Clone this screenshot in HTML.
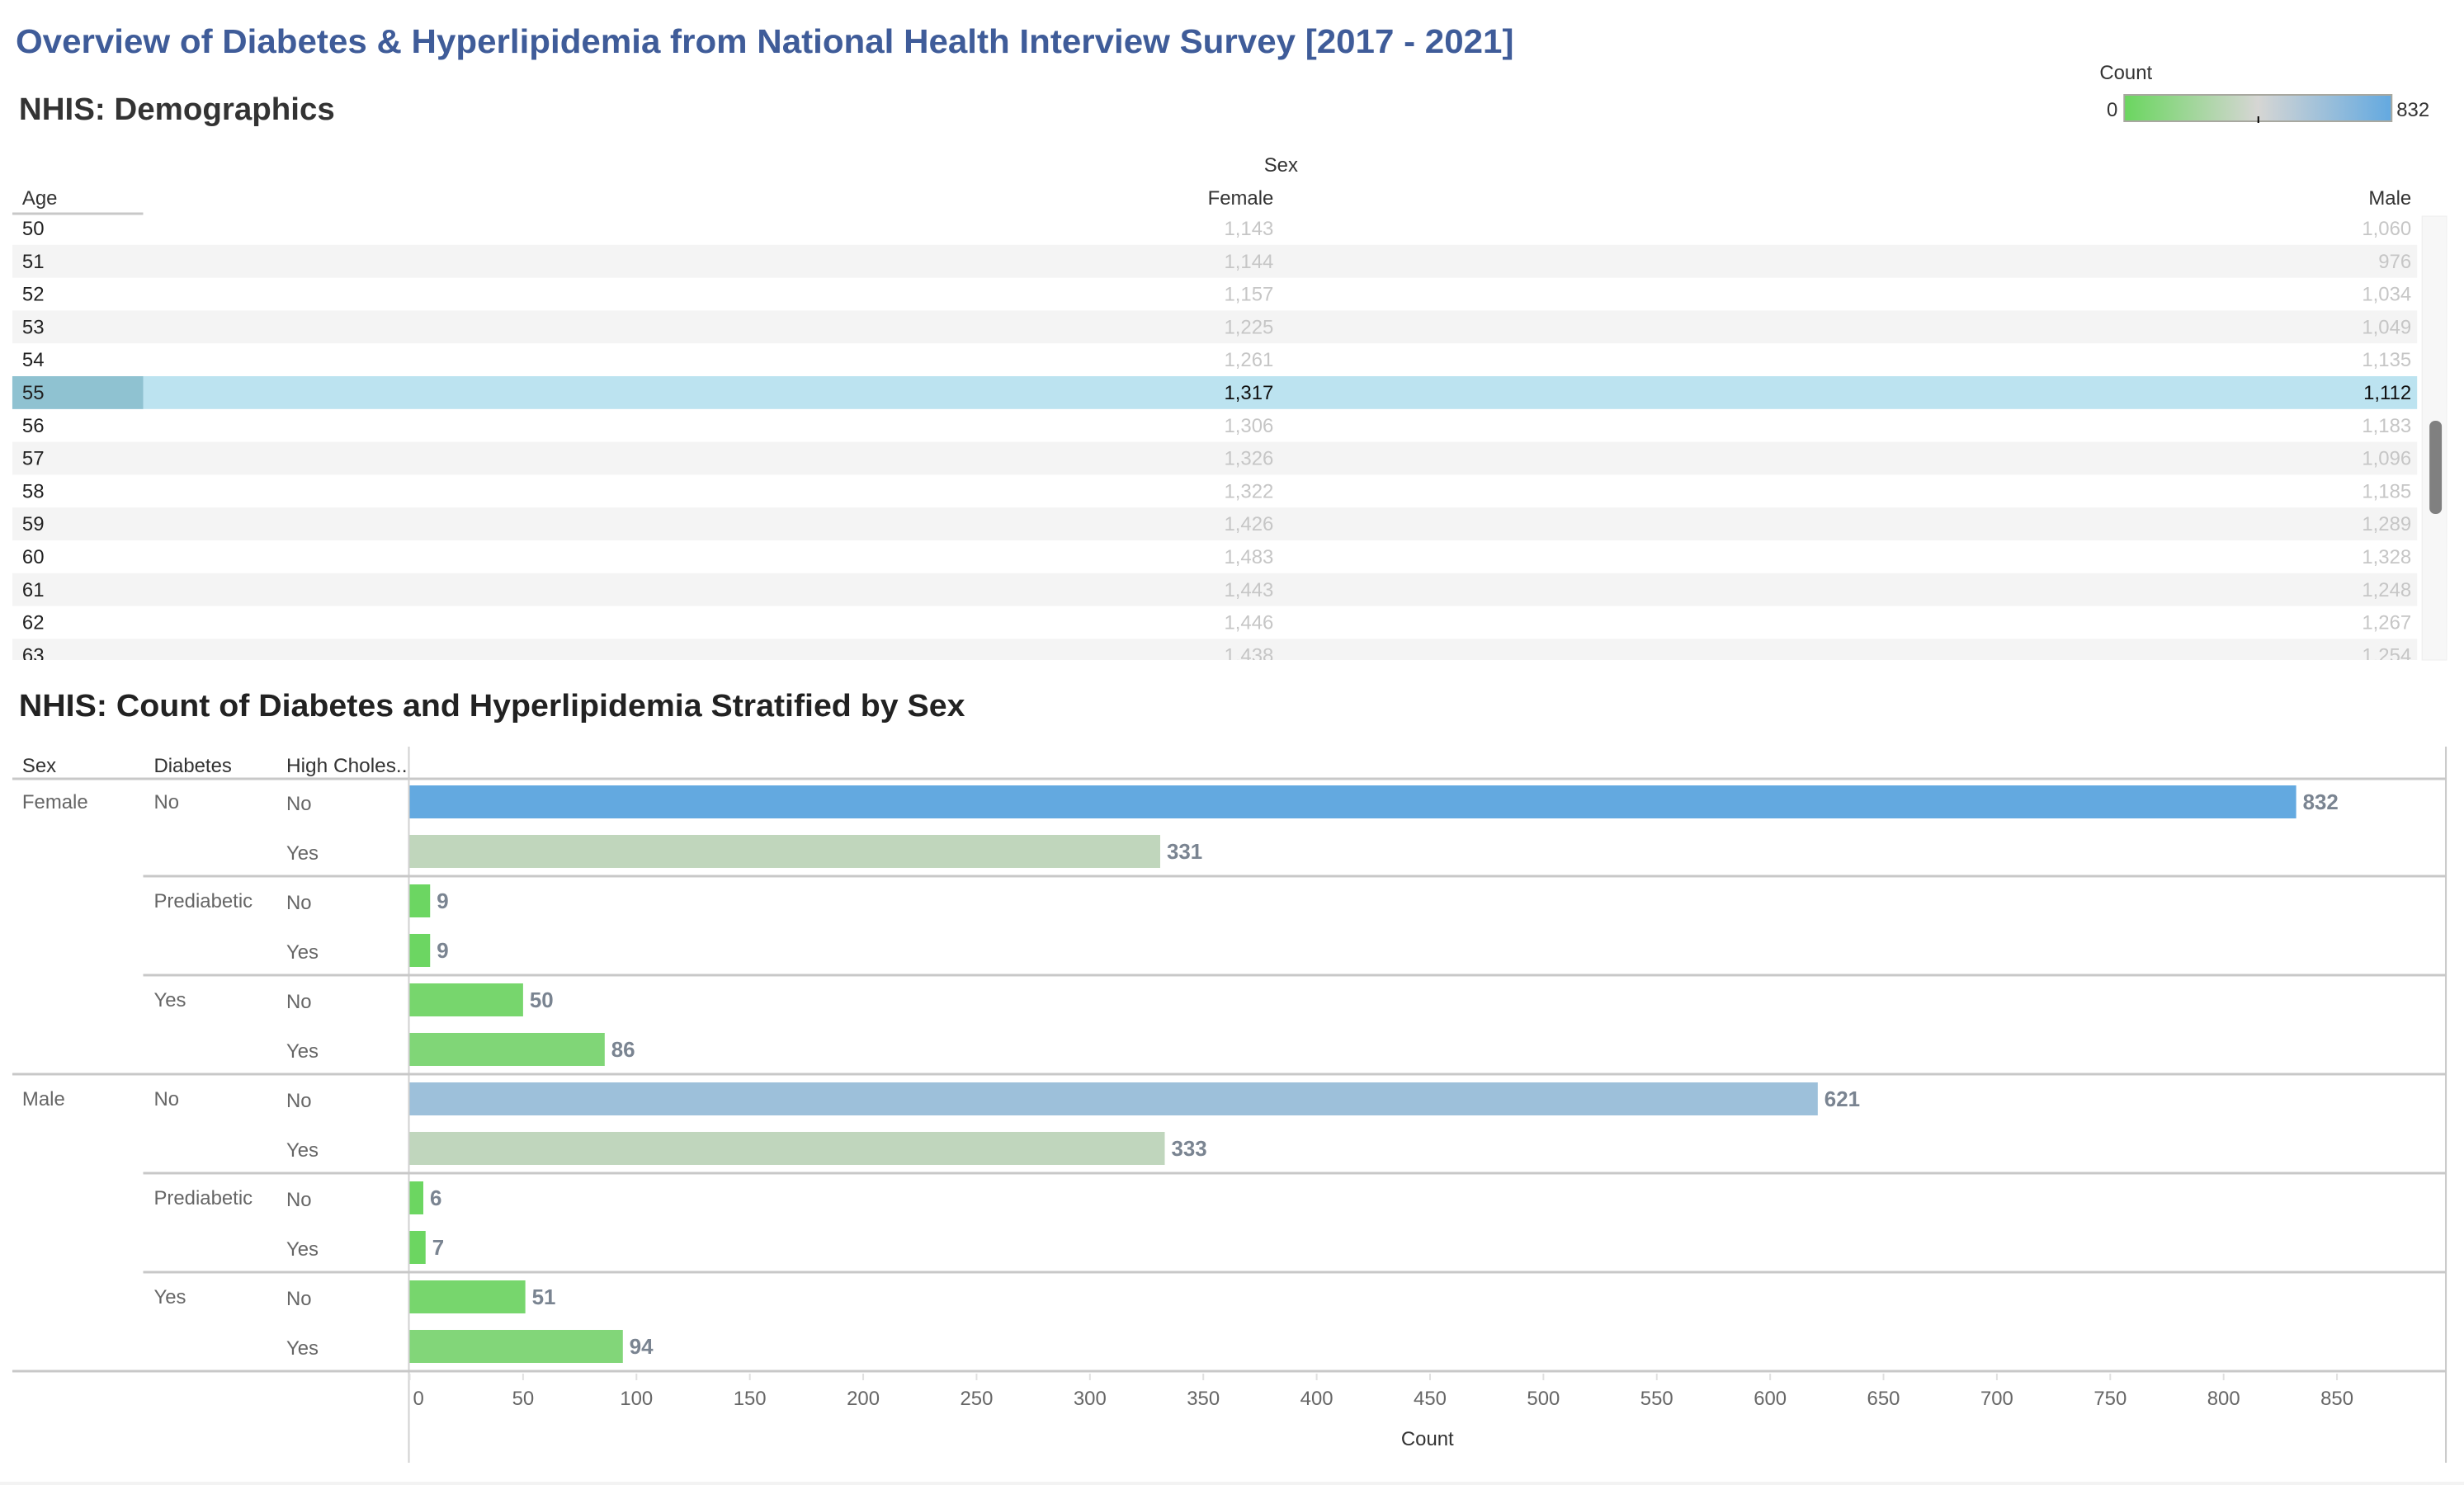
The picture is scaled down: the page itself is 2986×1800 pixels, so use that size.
<!DOCTYPE html>
<html><head><meta charset="utf-8">
<style>
html,body{margin:0;padding:0;background:#fff;}
svg{display:block;font-family:"Liberation Sans",sans-serif;}
</style></head>
<body>
<svg id="main" width="2986" height="1800" viewBox="0 0 2986 1800" xmlns="http://www.w3.org/2000/svg">
 <defs>
  <linearGradient id="lg" x1="0" x2="1" y1="0" y2="0">
    <stop offset="0" stop-color="#6ad65f"/>
    <stop offset="0.5" stop-color="#d6d6d4"/>
    <stop offset="1" stop-color="#63a9e0"/>
  </linearGradient>
  <clipPath id="tclip"><rect x="0" y="258" width="2986" height="542"/></clipPath>
 </defs>
 <g id="root" transform="scale(0.997,1)">
  <text x="19" y="64" font-size="41" font-weight="bold" fill="#3f5c99" textLength="1821" lengthAdjust="spacingAndGlyphs">Overview of Diabetes &amp; Hyperlipidemia from National Health Interview Survey [2017 - 2021]</text>
  <text x="23" y="145" font-size="38" font-weight="bold" fill="#333" textLength="384" lengthAdjust="spacingAndGlyphs">NHIS: Demographics</text>

  <g>
    <text x="2552" y="96" font-size="24" fill="#333">Count</text>
    <text x="2574" y="141" font-size="24" fill="#333" text-anchor="end">0</text>
    <rect x="2582" y="115" width="325" height="32" fill="url(#lg)" stroke="#a8a8a0" stroke-width="2"/>
    <line x1="2745" y1="141" x2="2745" y2="149" stroke="#000" stroke-width="2"/>
    <text x="2913" y="141" font-size="24" fill="#333">832</text>
  </g>

  <text x="1557" y="208" font-size="24" fill="#333" text-anchor="middle">Sex</text>
  <text x="27" y="248" font-size="24" fill="#333">Age</text>
  <line x1="15" y1="259" x2="174" y2="259" stroke="#c8c8c8" stroke-width="3"/>
  <text x="1548" y="248" font-size="24" fill="#333" text-anchor="end">Female</text>
  <text x="2931" y="248" font-size="24" fill="#333" text-anchor="end">Male</text>
  <g id="table" clip-path="url(#tclip)"></g>
  <rect x="2944" y="262" width="30" height="538" fill="#f7f7f7" stroke="#eee"/>
  <rect x="2953" y="510" width="15" height="113" rx="7" fill="#808080"/>

  <text x="23" y="868" font-size="38" font-weight="bold" fill="#222" textLength="1150" lengthAdjust="spacingAndGlyphs">NHIS: Count of Diabetes and Hyperlipidemia Stratified by Sex</text>
  <text x="27" y="936" font-size="24" fill="#333">Sex</text>
  <text x="187" y="936" font-size="24" fill="#333">Diabetes</text>
  <text x="348" y="936" font-size="24" fill="#333" textLength="147" lengthAdjust="spacingAndGlyphs">High Choles..</text>
  <line x1="15" y1="944" x2="2973" y2="944" stroke="#c8c8c8" stroke-width="3"/>
  <line x1="497" y1="905" x2="497" y2="1773" stroke="#d0d0d0" stroke-width="2"/>
  <line x1="2973" y1="905" x2="2973" y2="1773" stroke="#c8c8c8" stroke-width="2"/>
  <g id="bars"></g>
  <g id="xaxis"></g>
  <text x="1735" y="1752" font-size="24" fill="#333" text-anchor="middle">Count</text>
 </g>
 <rect x="0" y="1796" width="2986" height="4" fill="#f3f3f3"/>
</svg>
<script>
const ages = [50,51,52,53,54,55,56,57,58,59,60,61,62,63];
const femaleCounts = [1143,1144,1157,1225,1261,1317,1306,1326,1322,1426,1483,1443,1446,1438];
const maleCounts = [1060,976,1034,1049,1135,1112,1183,1096,1185,1289,1328,1248,1267,1254];
const highlightAge = 55;

const sexCats = ["Female","Female","Female","Female","Female","Female","Male","Male","Male","Male","Male","Male"];
const diabetesCats = ["No","No","Prediabetic","Prediabetic","Yes","Yes","No","No","Prediabetic","Prediabetic","Yes","Yes"];
const cholCats = ["No","Yes","No","Yes","No","Yes","No","Yes","No","Yes","No","Yes"];
const barCounts = [832,331,9,9,50,86,621,333,6,7,51,94];
const xTicks = [0,50,100,150,200,250,300,350,400,450,500,550,600,650,700,750,800,850];

const NS = "http://www.w3.org/2000/svg";
function mk(tag, attrs, parent, txt){
  const e = document.createElementNS(NS, tag);
  for (const k in attrs) e.setAttribute(k, attrs[k]);
  if (txt !== undefined) e.textContent = txt;
  parent.appendChild(e);
  return e;
}
const fmt = v => v.toLocaleString("en-US");

const table = document.getElementById("table");
const rowTop = 257, rowH = 39.8;
ages.forEach((a, i) => {
  const y = rowTop + i*rowH;
  const hi = a === highlightAge;
  if (hi) {
    const r1 = mk("rect", {x:15, y:y, width:2923, height:rowH, fill:"#bce3f0"}, table);
    
    
    const r2 = mk("rect", {x:15, y:y, width:159, height:rowH, fill:"#8fc2d1"}, table);
    
    
  } else if (i % 2 === 1) {
    const r = mk("rect", {x:15, y:y, width:2923, height:rowH, fill:"#f4f4f4"}, table);
    
    
  }
  const t1 = mk("text", {x:27, y:y+28, "font-size":24, fill:"#222"}, table, String(a));
  
  
  const t2 = mk("text", {x:1548, y:y+28, "font-size":24, fill: hi ? "#111" : "#c6c6c6", "text-anchor":"end"}, table, fmt(femaleCounts[i]));
  
  
  const t3 = mk("text", {x:2931, y:y+28, "font-size":24, fill: hi ? "#111" : "#c6c6c6", "text-anchor":"end"}, table, fmt(maleCounts[i]));
  
  
});

const x0 = 498, xScale = 2.756;
const xPos = v => x0 + v*xScale;
const maxV = Math.max(...barCounts), midV = maxV/2;
function colorFor(v){
  const g=[106,214,95], m=[214,214,212], b=[99,169,224];
  let a, c, t;
  if (v <= midV){ a=g; c=m; t=v/midV; } else { a=m; c=b; t=(v-midV)/midV; }
  return "rgb(" + a.map((x,k)=>Math.round(x+(c[k]-x)*t)).join(",") + ")";
}
const bars = document.getElementById("bars");
const yc0 = 972, pitch = 60, barH = 40;
barCounts.forEach((v, i) => {
  const yc = yc0 + i*pitch;
  const r = mk("rect", {x:x0, y:yc-barH/2, width:Math.max(1, xPos(v)-x0), height:barH, fill:colorFor(v)}, bars);
  
  
  const lb = mk("text", {x:xPos(v)+8, y:yc+9, "font-size":26, "font-weight":"bold", fill:"#7a8491"}, bars, String(v));
  
  
  const ch = mk("text", {x:348, y:yc+10, "font-size":24, fill:"#666"}, bars, cholCats[i]);
  
  
  if (i === 0 || diabetesCats[i] !== diabetesCats[i-1] || sexCats[i] !== sexCats[i-1]) {
    const d = mk("text", {x:187, y:yc+8, "font-size":24, fill:"#666"}, bars, diabetesCats[i]);
    
    
  }
  if (i === 0 || sexCats[i] !== sexCats[i-1]) {
    const s = mk("text", {x:27, y:yc+8, "font-size":24, fill:"#666"}, bars, sexCats[i]);
    
    
  }
  const last = i === barCounts.length-1;
  const sexBreak = last || sexCats[i+1] !== sexCats[i];
  const diaBreak = !last && diabetesCats[i+1] !== diabetesCats[i];
  if (sexBreak || diaBreak) {
    const ly = yc + pitch/2;
    const ln = mk("line", {x1: sexBreak ? 15 : 174, y1:ly, x2:2973, y2:ly, stroke:"#c8c8c8", "stroke-width":3}, bars);
    
    
  }
});

const xa = document.getElementById("xaxis");
xTicks.forEach((v, i) => {
  const tx = xPos(v);
  const tk = mk("line", {x1:tx, y1:1665, x2:tx, y2:1673, stroke:"#e0e0e0", "stroke-width":2}, xa);
  
  
  const lb = mk("text", {x: i === 0 ? tx+4 : tx, y:1703, "font-size":24, fill:"#666", "text-anchor": i === 0 ? "start" : "middle"}, xa, String(v));
  
  
});
</script>
</body></html>
